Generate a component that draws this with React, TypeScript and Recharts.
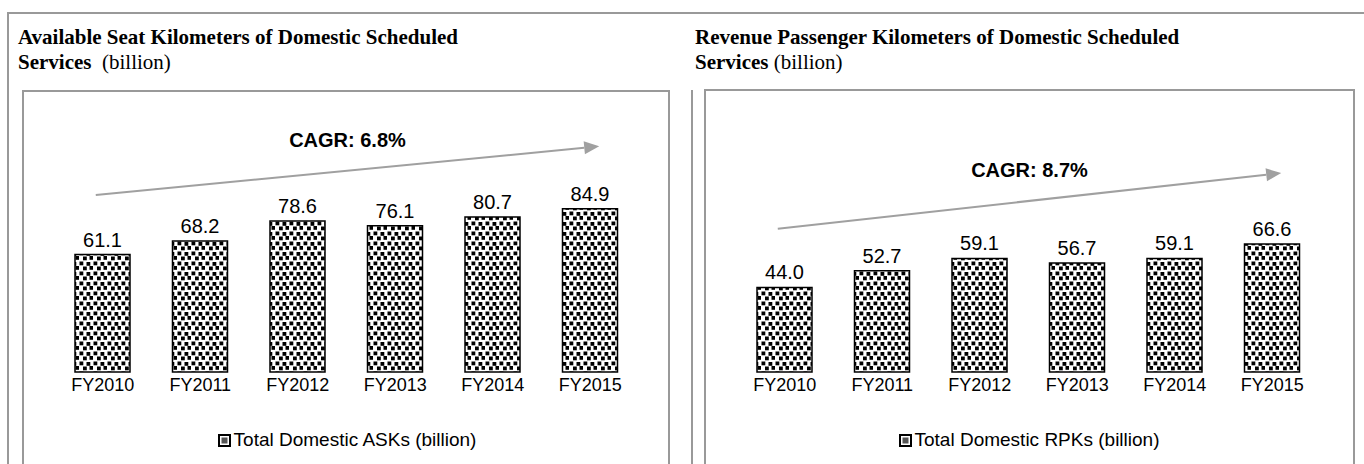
import React from 'react';
import { BarChart, Bar, XAxis, YAxis, LabelList, ReferenceLine } from 'recharts';

const years = ['FY2010', 'FY2011', 'FY2012', 'FY2013', 'FY2014', 'FY2015'];
const askValues = [61.1, 68.2, 78.6, 76.1, 80.7, 84.9];
const rpkValues = [44.0, 52.7, 59.1, 56.7, 59.1, 66.6];
const askCagr = 'CAGR: 6.8%';
const rpkCagr = 'CAGR: 8.7%';
const askArrowY = [92.5, 117];
const rpkArrowY = [75, 103];
const askLegend = 'Total Domestic ASKs (billion)';
const rpkLegend = 'Total Domestic RPKs (billion)';
const askTitle = ['Available Seat Kilometers of Domestic Scheduled', 'Services', '(billion)'];
const rpkTitle = ['Revenue Passenger Kilometers of Domestic Scheduled', 'Services', '(billion)'];

const SANS = '"Liberation Sans", Arial, sans-serif';
const SERIF = '"Liberation Serif", "Times New Roman", serif';
const GRAY = '#999999';

const makeArrow = (label: string) => (props: any) => {
  const { x1, y1, x2, y2 } = props;
  const dx = x2 - x1;
  const dy = y2 - y1;
  const len = Math.hypot(dx, dy) || 1;
  const ux = dx / len;
  const uy = dy / len;
  const sx = x1 - ux * 7;
  const sy = y1 - uy * 7;
  const tx = x2 + ux * 9;
  const ty = y2 + uy * 9;
  const headL = 15;
  const headW = 6.5;
  const bx = tx - ux * headL;
  const by = ty - uy * headL;
  const px = -uy;
  const py = ux;
  const pts = `${tx},${ty} ${bx + px * headW},${by + py * headW} ${bx - px * headW},${by - py * headW}`;
  const mx = (sx + tx) / 2;
  const my = (sy + ty) / 2;
  return (
    <g>
      <line x1={sx} y1={sy} x2={bx} y2={by} stroke="#a0a0a0" strokeWidth={2} />
      <polygon points={pts} fill="#a0a0a0" />
      <text x={mx} y={my - 24} textAnchor="middle" fontWeight="bold" fontSize={20} fontFamily={SANS} fill="#000">
        {label}
      </text>
    </g>
  );
};

const DotPattern = ({ id }: { id: string }) => (
  <defs>
    <pattern id={id} x="0" y="0" width="14" height="10" patternUnits="userSpaceOnUse">
      <rect x="0" y="0" width="14" height="10" fill="#fff" />
      <rect x="0.5" y="0.5" width="3.8" height="3.8" fill="#000" />
      <rect x="7.5" y="1" width="3.8" height="3.8" fill="#000" />
      <rect x="4" y="5.5" width="3.8" height="3.8" fill="#000" />
      <rect x="10.5" y="5" width="3.8" height="3.8" fill="#000" />
    </pattern>
  </defs>
);

const LegendBox = ({ label }: { label: string }) => (
  <div style={{ position: 'absolute', left: 0, top: 338, width: 648, height: 22, display: 'flex', alignItems: 'center', justifyContent: 'center', fontFamily: SANS, fontSize: 19, color: '#000' }}>
    <svg width={13} height={13} style={{ marginRight: 3 }}>
      <rect x={1} y={1} width={11} height={11} fill="#fff" stroke="#000" strokeWidth={2} />
      <rect x={3.5} y={3.5} width={6} height={6} fill="#555" />
    </svg>
    <span>{label}</span>
  </div>
);

const Panel = ({ values, cagr, arrowY, legend, patternId }: any) => {
  const data = years.map((y, i) => ({ year: y, value: values[i] }));
  return (
    <div style={{ position: 'relative', width: 648, height: 373 }}>
      <BarChart width={648} height={373} data={data} margin={{ top: 12, right: 32, bottom: 62, left: 31 }} barSize={55}>
        <DotPattern id={patternId} />
        <XAxis dataKey="year" axisLine={false} tickLine={false} interval={0} height={30} tickMargin={0}
          tick={{ fill: '#000', fontSize: 18, fontFamily: SANS }} />
        <YAxis hide domain={[0, 140]} />
        <ReferenceLine
          segment={[{ x: years[0], y: arrowY[0] }, { x: years[years.length - 1], y: arrowY[1] }]}
          ifOverflow="visible"
          shape={makeArrow(cagr)}
        />
        <Bar dataKey="value" fill={`url(#${patternId})`} stroke="#000" strokeWidth={1.5} isAnimationActive={false}>
          <LabelList dataKey="value" position="top" offset={8} fill="#000" fontSize={20} fontFamily={SANS}
            formatter={(v: any) => Number(v).toFixed(1)} />
        </Bar>
      </BarChart>
      <LegendBox label={legend} />
    </div>
  );
};

const Title = ({ lines, left, gap }: { lines: string[]; left: number; gap: string }) => (
  <div style={{ position: 'absolute', left, top: 25, fontFamily: SERIF, fontSize: 21, lineHeight: '25px', color: '#000', whiteSpace: 'nowrap' }}>
    <b>{lines[0]}</b>
    <br />
    <b>{lines[1]}</b>
    <span>{gap}{lines[2]}</span>
  </div>
);

export default function App() {
  return (
    <div style={{ position: 'absolute', left: 0, top: 0, width: 1364, height: 464, background: '#fff', overflow: 'hidden' }}>
      <div style={{ position: 'absolute', left: 7, top: 12, width: 1357, height: 2, background: GRAY }} />
      <div style={{ position: 'absolute', left: 7, top: 12, width: 2, height: 452, background: GRAY }} />
      <Title lines={askTitle} left={18} gap={'\u00a0\u00a0'} />
      <Title lines={rpkTitle} left={695} gap={'\u00a0'} />
      <div style={{ position: 'absolute', left: 22, top: 90, width: 648, height: 400, border: `2px solid ${GRAY}`, boxSizing: 'border-box' }} />
      <div style={{ position: 'absolute', left: 691, top: 90, width: 2, height: 374, background: GRAY }} />
      <div style={{ position: 'absolute', left: 704, top: 89, width: 651, height: 400, border: `2px solid ${GRAY}`, boxSizing: 'border-box' }} />
      <div style={{ position: 'absolute', left: 23, top: 91 }}>
        <Panel values={askValues} cagr={askCagr} arrowY={askArrowY} legend={askLegend} patternId="dotsAsk" />
      </div>
      <div style={{ position: 'absolute', left: 705, top: 91 }}>
        <Panel values={rpkValues} cagr={rpkCagr} arrowY={rpkArrowY} legend={rpkLegend} patternId="dotsRpk" />
      </div>
    </div>
  );
}
